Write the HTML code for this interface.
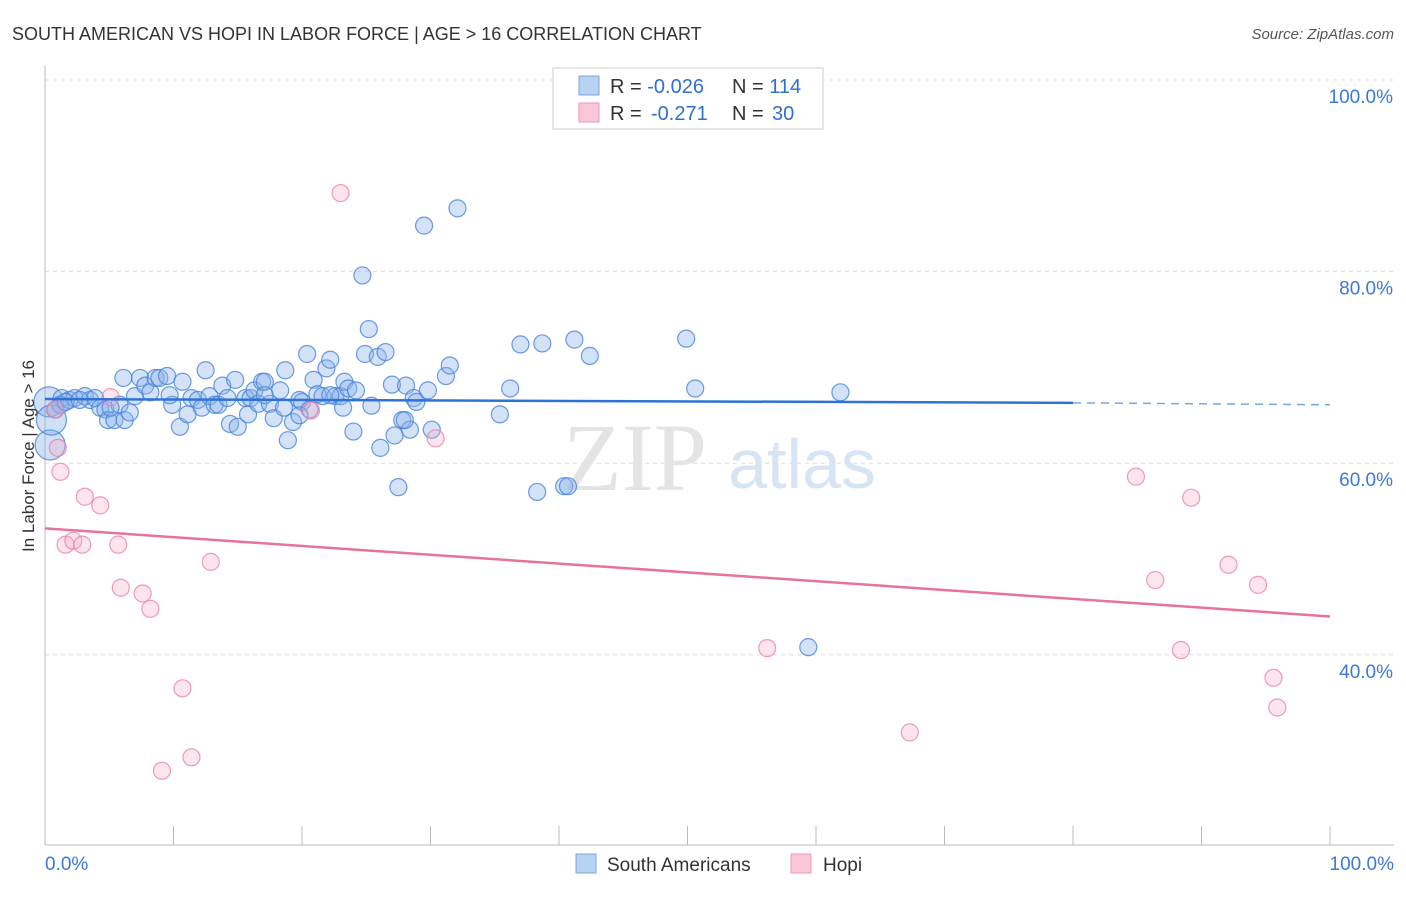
<!DOCTYPE html>
<html><head><meta charset="utf-8"><style>
body{margin:0;background:#fff;font-family:"Liberation Sans",sans-serif}
#c{position:relative;width:1406px;height:892px}
</style></head><body>
<div id="c">
<svg id="s" width="1406" height="892" xmlns="http://www.w3.org/2000/svg">
<text x="12" y="40" font-size="18" fill="#333">SOUTH AMERICAN VS HOPI IN LABOR FORCE | AGE &gt; 16 CORRELATION CHART</text>
<text x="1394" y="39" font-size="15" fill="#555" font-style="italic" text-anchor="end">Source: ZipAtlas.com</text>
<g id="grid"></g>
<g><text x="635" y="490" font-size="96" font-family="Liberation Serif,serif" fill="#e4e4e4" text-anchor="middle">ZIP</text><text x="802" y="488" font-size="70" fill="#d6e4f4" text-anchor="middle">atlas</text></g>
<g id="axes"></g><g id="pts"></g><g id="lines"></g>
<text x="0" y="0" transform="translate(34,456) rotate(-90)" font-size="17" fill="#333" text-anchor="middle">In Labor Force | Age &gt; 16</text>
<g>
<rect x="553" y="68" width="270" height="61" fill="#fff" stroke="#ccc"/>
<rect x="579" y="76" width="20" height="19" fill="#b8d2f2" stroke="#7aa6e0"/>
<rect x="579" y="103" width="20" height="19" fill="#f9c6d6" stroke="#ee9ab4"/>
<text x="610" y="93" font-size="20" fill="#333">R = <tspan fill="#2f6fd0">-0.026</tspan><tspan x="732">N = </tspan><tspan fill="#2f6fd0">114</tspan></text>
<text x="610" y="120" font-size="20" fill="#333">R = <tspan x="651" fill="#2f6fd0">-0.271</tspan><tspan x="732">N = </tspan><tspan x="772" fill="#2f6fd0">30</tspan></text>
</g>
<g>
<rect x="576" y="854" width="20" height="19" fill="#b8d2f2" stroke="#7aa6e0"/>
<text x="607" y="871" font-size="19" fill="#333">South Americans</text>
<rect x="791" y="854" width="20" height="19" fill="#f9c6d6" stroke="#ee9ab4"/>
<text x="823" y="871" font-size="19" fill="#333">Hopi</text>
</g>
</svg></div>
<script>
const blueX=[1.3,1.2,0.8,1.9,2.3,3.1,3.5,3.9,4.3,4.7,4.9,5.4,5.8,6.2,6.6,6.1,7.0,7.4,7.8,8.2,8.6,8.9,9.5,9.9,10.5,10.7,11.1,11.4,11.9,12.2,12.5,12.8,13.2,13.5,13.8,14.2,14.4,14.8,15.0,15.6,15.8,16.0,16.3,16.6,16.9,17.1,17.5,17.8,18.3,18.7,18.6,18.9,19.3,19.8,20.0,20.4,20.6,20.9,21.2,21.6,21.9,22.2,22.6,23.0,23.2,23.3,23.6,24.0,24.2,24.7,24.9,25.2,25.4,25.9,26.1,26.5,27.0,27.2,27.5,27.8,28.1,28.4,28.7,28.9,29.5,29.8,30.1,31.2,31.5,32.1,35.4,36.2,37.0,38.3,38.7,40.4,40.7,41.2,42.4,49.9,50.6,59.4,61.9,1.6,2.7,5.1,9.7,17.1,19.8,22.2,28.0];
const blueY=[66.8,66.1,65.6,66.6,66.8,67.0,66.6,66.8,65.8,65.6,64.5,64.5,66.1,64.5,65.3,68.9,67.0,68.9,68.1,67.4,68.9,68.9,69.1,66.1,63.8,68.5,65.1,66.8,66.6,65.8,69.7,67.0,66.1,66.1,68.1,66.8,64.1,68.7,63.8,66.8,65.1,66.8,67.6,66.2,68.5,68.5,66.2,64.7,67.6,69.7,65.8,62.4,64.3,66.6,66.4,71.4,65.6,68.7,67.2,67.0,69.9,70.8,67.0,67.0,65.8,68.5,67.8,63.3,67.6,79.6,71.4,74.0,66.0,71.1,61.6,71.6,68.2,62.9,57.5,64.5,68.1,63.5,66.8,66.4,84.8,67.6,63.5,69.1,70.2,86.6,65.1,67.8,72.4,57.0,72.5,57.6,57.6,72.9,71.2,73.0,67.8,40.8,67.4,66.4,66.6,65.8,67.1,67.1,65.0,67.1,64.5];
const bigBlueX=[0.3,0.4,0.5];
const bigBlueY=[66.4,61.9,64.5];
const pinkX=[23.0,1.0,1.2,3.1,4.3,1.6,2.2,2.9,5.7,5.9,7.6,8.2,12.9,10.7,11.4,9.1,20.7,30.4,5.1,0.8,56.2,67.3,84.9,89.2,86.4,92.1,94.4,88.4,95.6,95.9];
const pinkY=[88.2,61.6,59.1,56.5,55.6,51.5,51.9,51.5,51.5,47.0,46.4,44.8,49.7,36.5,29.3,27.9,65.5,62.6,66.9,65.6,40.7,31.9,58.6,56.4,47.8,49.4,47.3,40.5,37.6,34.5];
const blueTrend=[66.7,66.3,66.1]; // at x=0, 80, 100
const pinkTrend=[53.2,44.0]; // at x=0, 100
const yTicks=[100,80,60,40];
const yTickLabels=["100.0%","80.0%","60.0%","40.0%"];
const xTicks=[0,10,20,30,40,50,60,70,80,90,100];

const X=v=>45+v*12.85, Y=v=>80+(100-v)*9.58;
const NS="http://www.w3.org/2000/svg";
function mk(p,t,a){const e=document.createElementNS(NS,t);for(const k in a)e.setAttribute(k,a[k]);p.appendChild(e);return e;}
const grid=document.getElementById('grid'),axes=document.getElementById('axes'),pts=document.getElementById('pts'),lines=document.getElementById('lines');
yTicks.forEach((v,i)=>{
 const l=mk(grid,'line',{x1:45,x2:1394,y1:Y(v),y2:Y(v),stroke:'#ddd','stroke-dasharray':'4,4'});
 
 
 const t=mk(axes,'text',{x:1393,y:Y(v)+23,'font-size':19,fill:'#3b78d8','text-anchor':'end'});t.textContent=yTickLabels[i];
 
 
});
const ya=mk(axes,'line',{x1:45,x2:45,y1:66,y2:845,stroke:'#bbb'});


const xa=mk(axes,'line',{x1:45,x2:1394,y1:845,y2:845,stroke:'#bbb'});


xTicks.forEach(v=>{const t=mk(axes,'line',{x1:X(v),x2:X(v),y1:826,y2:845,stroke:'#bbb'});
 
 });
[[0,'0.0%','start',45],[100,'100.0%','end',1394]].forEach(a=>{const t=mk(axes,'text',{x:a[3],y:870,'font-size':19,fill:'#3b78d8','text-anchor':a[2]});t.textContent=a[1];
 
 });
function dot(x,y,r,f,s,name){const c=mk(pts,'circle',{cx:X(x),cy:Y(y),r:r,fill:f,stroke:s,'stroke-width':1.2});
 
 }
bigBlueX.forEach((x,i)=>dot(x,bigBlueY[i],15,'rgba(120,165,230,0.35)','rgba(70,130,220,0.8)','south-american-point'));
blueX.forEach((x,i)=>dot(x,blueY[i],8.5,'rgba(140,180,235,0.38)','rgba(70,130,220,0.8)','south-american-point'));
pinkX.forEach((x,i)=>dot(x,pinkY[i],8.5,'rgba(245,170,195,0.3)','rgba(235,130,165,0.8)','hopi-point'));
const b1=mk(lines,'line',{x1:X(0),y1:Y(blueTrend[0]),x2:X(80),y2:Y(blueTrend[1]),stroke:'#2f72d6','stroke-width':2.5});


const b2=mk(lines,'line',{x1:X(80),y1:Y(blueTrend[1]),x2:X(100),y2:Y(blueTrend[2]),stroke:'#7aa6e0','stroke-width':1.5,'stroke-dasharray':'8,6'});


const p1=mk(lines,'line',{x1:X(0),y1:Y(pinkTrend[0]),x2:X(100),y2:Y(pinkTrend[1]),stroke:'#e8739a','stroke-width':2.5});


</script>
</body></html>
